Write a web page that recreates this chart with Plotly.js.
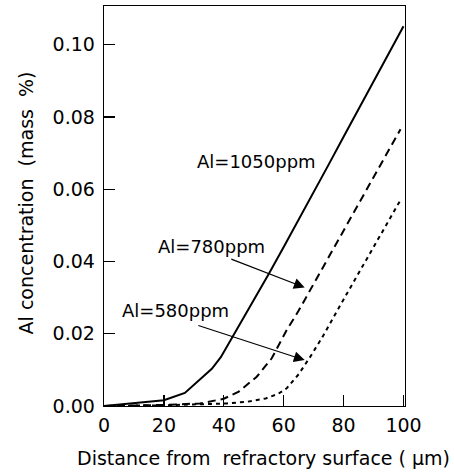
<!DOCTYPE html>
<html>
<head>
<meta charset="utf-8">
<script src="https://cdn.plot.ly/plotly-3.0.1.min.js"></script>
<style>html,body{margin:0;padding:0;background:#fff;}#chart{width:454px;height:472px;}</style>
</head>
<body>
<div id="chart"></div>
<script>
// Al = 1050 ppm (solid)
const x1050 = [0, 10, 20, 27, 32, 36, 39, 43, 50, 55, 60, 65, 70, 75, 80, 85, 90, 95, 100];
const y1050 = [0, 0.0007, 0.0016, 0.0036, 0.0072, 0.0103, 0.0135, 0.0192, 0.0292, 0.0365, 0.0440, 0.0515, 0.0592, 0.0668, 0.0745, 0.0822, 0.0898, 0.0975, 0.1051];
// Al = 780 ppm (dashed)
const x780 = [0, 20, 32, 40, 45, 51, 56, 61, 65, 70, 75, 80, 85, 90, 95, 99];
const y780 = [0, 0.0003, 0.0007, 0.0020, 0.0040, 0.0081, 0.0132, 0.0210, 0.0264, 0.0338, 0.0411, 0.0485, 0.0558, 0.0632, 0.0705, 0.0766];
// Al = 580 ppm (dotted)
const x580 = [0, 20, 41, 48, 54, 58, 61, 65, 69, 73, 80, 85, 90, 95, 99];
const y580 = [0, 0.0002, 0.0007, 0.0012, 0.0021, 0.0033, 0.0049, 0.0088, 0.0138, 0.0192, 0.0295, 0.0368, 0.0441, 0.0514, 0.0570];

const xTicks = [0, 20, 40, 60, 80, 100];
const yTicks = [0, 0.02, 0.04, 0.06, 0.08, 0.10];
const yTickText = ['0.00', '0.02', '0.04', '0.06', '0.08', '0.10'];

const labels = ['Al=1050ppm', 'Al=780ppm', 'Al=580ppm'];
const labelX = [51.0, 36.0, 24.0];
const labelY = [0.0676, 0.0442, 0.0265];
// arrows: tail -> head
const arrowTailX = [42, 31];
const arrowTailY = [0.0408, 0.0224];
const arrowHeadX = [67, 67];
const arrowHeadY = [0.0328, 0.0127];

const FONT = 'DejaVu Sans, Arial, sans-serif';

const traces = [
  {x: x1050, y: y1050, mode: 'lines', line: {color: '#000', width: 2}, hoverinfo: 'skip'},
  {x: x780, y: y780, mode: 'lines', line: {color: '#000', width: 2, dash: '8px,5px'}, hoverinfo: 'skip'},
  {x: x580, y: y580, mode: 'lines', line: {color: '#000', width: 2, dash: '4px,4px'}, hoverinfo: 'skip'}
];

const annotations = [];
for (let i = 0; i < labels.length; i++) {
  annotations.push({x: labelX[i], y: labelY[i], xref: 'x', yref: 'y', text: labels[i], showarrow: false,
    xanchor: 'center', yanchor: 'middle', font: {family: FONT, size: 18, color: '#000'}});
}
for (let i = 0; i < arrowHeadX.length; i++) {
  annotations.push({x: arrowHeadX[i], y: arrowHeadY[i], xref: 'x', yref: 'y', ax: arrowTailX[i], ay: arrowTailY[i],
    axref: 'x', ayref: 'y', text: '', showarrow: true, arrowhead: 2, arrowsize: 1.8, arrowwidth: 1.2, arrowcolor: '#000'});
}

const layout = {
  width: 454, height: 472,
  margin: {l: 104, r: 49, t: 6, b: 66},
  paper_bgcolor: '#fff', plot_bgcolor: '#fff',
  showlegend: false,
  font: {family: FONT, size: 19, color: '#000'},
  xaxis: {
    range: [0, 100.5], tickvals: xTicks, ticktext: xTicks.map(String),
    ticks: 'inside', ticklen: 11, tickwidth: 1.3, tickcolor: '#000',
    showline: true, linecolor: '#000', linewidth: 1.3, mirror: true,
    showgrid: false, zeroline: false, ticklabelstandoff: 2,
    tickfont: {family: FONT, size: 19, color: '#000'},
    title: {text: '&nbsp;&nbsp;&nbsp;Distance from&nbsp;&nbsp;refractory surface (&nbsp;µm)', font: {family: FONT, size: 19, color: '#000'}, standoff: 16}
  },
  yaxis: {
    range: [0, 0.1107], tickvals: yTicks, ticktext: yTickText,
    ticks: 'inside', ticklen: 11, tickwidth: 1.3, tickcolor: '#000',
    showline: true, linecolor: '#000', linewidth: 1.3, mirror: true,
    showgrid: false, zeroline: false, ticklabelstandoff: 4,
    tickfont: {family: FONT, size: 19, color: '#000'},
    title: {text: '&nbsp;Al concentration&nbsp;&nbsp;(mass&nbsp;&nbsp;%)', font: {family: FONT, size: 19, color: '#000'}, standoff: 14}
  },
  annotations: annotations
};

Plotly.newPlot('chart', traces, layout, {staticPlot: true, displayModeBar: false});
</script>
</body>
</html>
